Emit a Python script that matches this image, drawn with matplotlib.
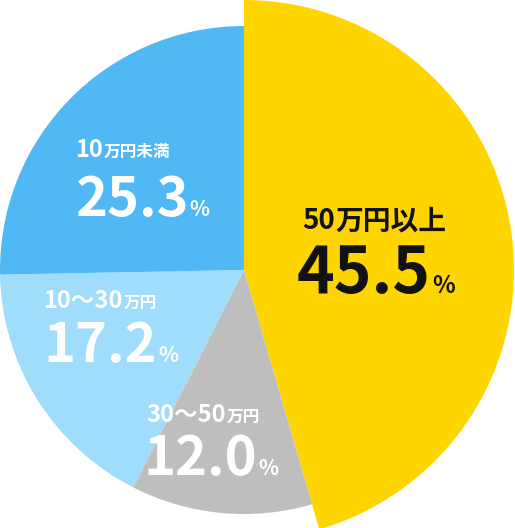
import matplotlib.pyplot as plt

plt.rcParams['font.family'] = ['Noto Sans CJK JP', 'DejaVu Sans']

categories = ['50万円以上', '30～50万円', '10～30万円', '10万円未満']
values = [45.5, 12.0, 17.2, 25.3]
colors = ['#FFD500', '#BEBEBE', '#A0DCFC', '#50B9F5']

W, H = 515, 528
fig = plt.figure(figsize=(W / 100, H / 100), dpi=100)
ax = fig.add_axes([0, 0, 1, 1])

cx, cy, r = 244, H - 270, 244
wedges, _ = ax.pie(values, colors=colors, startangle=90, counterclock=False,
                   center=(cx, cy), radius=r, wedgeprops=dict(linewidth=0))
# the biggest slice sticks out beyond the others
wedges[0].set_radius(270)

ax.set_xlim(0, W)
ax.set_ylim(0, H)
ax.set_aspect('auto')
ax.axis('off')

renderer = fig.canvas.get_renderer()


def label(x, y, parts, color, gap=1):
    # parts: list of (text, size) drawn one after another on the same baseline
    y = H - y
    for txt, size in parts:
        t = ax.text(x, y, txt, fontsize=size, fontweight='bold', color=color,
                    ha='left', va='baseline')
        x = t.get_window_extent(renderer).x1 + gap


# name pos, value pos, sizes (digits, kanji, value, %), colour
pos = {
    '50万円以上': ((302, 229), (297, 293), (20, 20, 46, 17), '#111111'),
    '30～50万円': ((146, 422), (144, 475), (17, 12, 39, 15), 'white'),
    '10～30万円': ((43, 308), (44, 362), (17, 12, 39, 15), 'white'),
    '10万円未満': ((75, 157), (75, 216), (17, 12, 39, 15), 'white'),
}

for name, v in zip(categories, values):
    (nx, ny), (vx, vy), (s1, s2, s3, s4), c = pos[name]
    head = name.rstrip('万円以上未満')
    tail = name[len(head):]
    label(nx, ny, [(head, s1), (tail, s2)], c)
    label(vx, vy, [('%.1f' % v, s3), ('%', s4)], c)

fig.savefig('out.png', dpi=100)
